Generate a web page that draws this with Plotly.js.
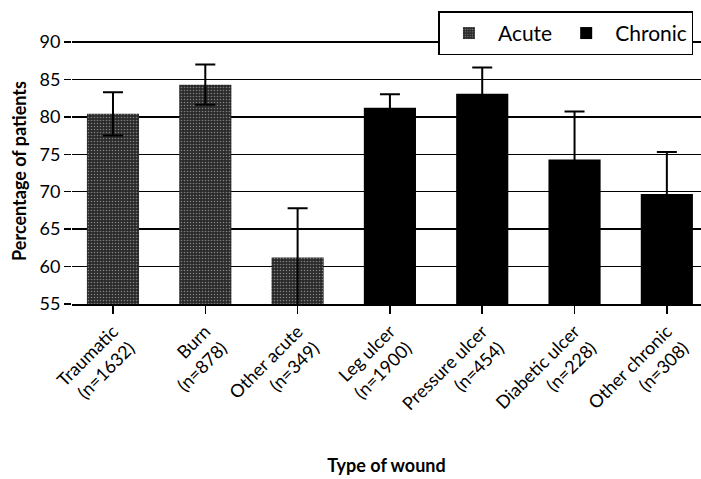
<!DOCTYPE html>
<html><head><meta charset="utf-8">
<script src="https://cdn.plot.ly/plotly-3.0.1.min.js"></script>
<style>body{margin:0;background:#fff}#chart{width:701px;height:479px}</style>
</head><body><div id="chart"></div>
<script>
const categories = ["Traumatic<br>(n=1632)","Burn<br>(n=878)","Other acute<br>(n=349)","Leg ulcer<br>(n=1900)","Pressure ulcer<br>(n=454)","Diabetic ulcer<br>(n=228)","Other chronic<br>(n=308)"];
const acuteCats = categories.slice(0,3);
const chronicCats = categories.slice(3);
const acuteValues = [80.4, 84.3, 61.2];
const acuteErrors = [2.9, 2.7, 6.6];
const chronicValues = [81.2, 83.1, 74.3, 69.7];
const chronicErrors = [1.8, 3.5, 6.4, 5.6];
const yTicks = [55,60,65,70,75,80,85,90];

const font = "Lato, 'Open Sans', sans-serif";
const err = (a) => ({type:'data', array:a, visible:true, color:'#000', thickness:2, width:10, symmetric:true});
const data = [
  {type:'bar', name:'Acute', x:acuteCats, y:acuteValues, error_y:err(acuteErrors),
   marker:{color:'#333', pattern:{shape:'.', bgcolor:'#2a2a2a', fgcolor:'#808080', size:3, solidity:0.22}, line:{width:0}}},
  {type:'bar', name:'Chronic', x:chronicCats, y:chronicValues, error_y:err(chronicErrors),
   marker:{color:'#000', line:{width:0}}}
];
const layout = {
  width:701, height:479,
  margin:{l:72, r:0, t:38, b:175},
  paper_bgcolor:'#fff', plot_bgcolor:'#fff',
  font:{family:font, color:'#000'},
  bargap:0.435, barmode:'group',
  showlegend:true,
  legend:{orientation:'h', x:0.988, xanchor:'right', y:1.1, yanchor:'top',
          bgcolor:'#fff', bordercolor:'#000', borderwidth:1.5,
          font:{size:21, family:font}, itemwidth:48, traceorder:'normal'},
  xaxis:{type:'category', categoryorder:'array', categoryarray:categories,
         range:[-0.444, 6.37], tickangle:-45, ticks:'outside', ticklen:8, tickwidth:1.5, tickcolor:'#000',
         showline:true, linecolor:'#000', linewidth:2, showgrid:false, zeroline:false,
         tickfont:{size:18, family:font}, automargin:false,
         title:{text:'<b>Type of wound</b>', font:{size:18, family:font}, standoff:30}},
  yaxis:{range:[55,90.53], tickvals:yTicks, ticks:'outside', ticklen:7, tickwidth:1.5, tickcolor:'#000',
         showgrid:true, gridcolor:'#000', gridwidth:1.5, zeroline:false, showline:false,
         tickfont:{size:18, family:font}, automargin:false,
         title:{text:'<b>Percentage of patients</b>', font:{size:18, family:font}, standoff:8}}
};
Plotly.newPlot('chart', data, layout, {displayModeBar:false, staticPlot:true});
</script></body></html>
